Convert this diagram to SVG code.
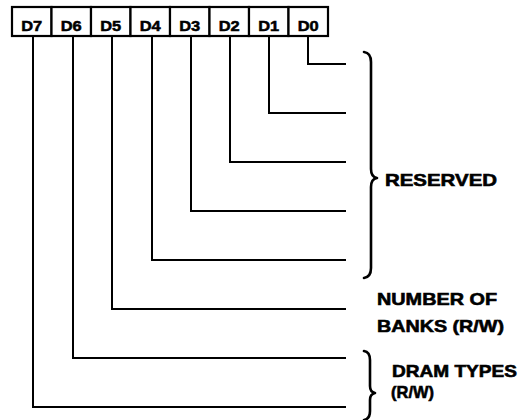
<svg xmlns="http://www.w3.org/2000/svg" width="529" height="420" viewBox="0 0 529 420">
<style>
.cell{fill:#fff;stroke:#000;stroke-width:2.2}
.bit{font-family:"Liberation Sans",Arial,sans-serif;font-weight:bold;font-size:14px;fill:#000;stroke:#000;stroke-width:0.5;text-anchor:middle}
.lbl{font-family:"Liberation Sans",Arial,sans-serif;font-weight:bold;font-size:17px;fill:#000;stroke:#000;stroke-width:0.6}
.wire{fill:none;stroke:#000;stroke-width:2}
.brace{fill:none;stroke:#000;stroke-width:2.6;stroke-linecap:round;stroke-linejoin:round}
</style>
<rect width="529" height="420" fill="#fff"/>
<g id="register">
<g id="bit-d7"><rect class="cell" x="12" y="7" width="39.5" height="29"/><text class="bit" x="31.75" y="30.5" textLength="21" lengthAdjust="spacingAndGlyphs">D7</text></g>
<g id="bit-d6"><rect class="cell" x="51.5" y="7" width="39.5" height="29"/><text class="bit" x="71.25" y="30.5" textLength="21" lengthAdjust="spacingAndGlyphs">D6</text></g>
<g id="bit-d5"><rect class="cell" x="91" y="7" width="39.5" height="29"/><text class="bit" x="110.75" y="30.5" textLength="21" lengthAdjust="spacingAndGlyphs">D5</text></g>
<g id="bit-d4"><rect class="cell" x="130.5" y="7" width="39.5" height="29"/><text class="bit" x="150.25" y="30.5" textLength="21" lengthAdjust="spacingAndGlyphs">D4</text></g>
<g id="bit-d3"><rect class="cell" x="170" y="7" width="39.5" height="29"/><text class="bit" x="189.75" y="30.5" textLength="21" lengthAdjust="spacingAndGlyphs">D3</text></g>
<g id="bit-d2"><rect class="cell" x="209.5" y="7" width="39.5" height="29"/><text class="bit" x="229.25" y="30.5" textLength="21" lengthAdjust="spacingAndGlyphs">D2</text></g>
<g id="bit-d1"><rect class="cell" x="249" y="7" width="39.5" height="29"/><text class="bit" x="268.75" y="30.5" textLength="21" lengthAdjust="spacingAndGlyphs">D1</text></g>
<g id="bit-d0"><rect class="cell" x="288.5" y="7" width="39.5" height="29"/><text class="bit" x="308.25" y="30.5" textLength="21" lengthAdjust="spacingAndGlyphs">D0</text></g>
</g>
<g id="connectors">
<path class="wire" d="M308 37V64H346"/>
<path class="wire" d="M269 37V113H346"/>
<path class="wire" d="M230 37V162H346"/>
<path class="wire" d="M191 37V211H346"/>
<path class="wire" d="M152 37V260H346"/>
<path class="wire" d="M112 37V309H346"/>
<path class="wire" d="M73 37V358H346"/>
<path class="wire" d="M33 37V407H346"/>
</g>
<g id="reserved">
<path class="brace" d="M364 52Q371 53 371 62L371 169Q371 177 377 178Q371 179 371 187L371 268Q371 277 364 278"/>
<text class="lbl" x="385" y="186" textLength="112" lengthAdjust="spacingAndGlyphs">RESERVED</text>
</g>
<g id="number-of-banks">
<text class="lbl" x="377" y="305" textLength="120" lengthAdjust="spacingAndGlyphs">NUMBER OF</text>
<text class="lbl" x="377" y="332" textLength="127" lengthAdjust="spacingAndGlyphs">BANKS (R/W)</text>
</g>
<g id="dram-types">
<path class="brace" d="M364 351Q370 352 370 360L370 386Q370 392 375 393Q370 394 370 400L370 411Q370 419 364 420"/>
<text class="lbl" x="392" y="377" textLength="125" lengthAdjust="spacingAndGlyphs">DRAM TYPES</text>
<text class="lbl" x="391" y="398" textLength="43" lengthAdjust="spacingAndGlyphs">(R/W)</text>
</g>
</svg>
